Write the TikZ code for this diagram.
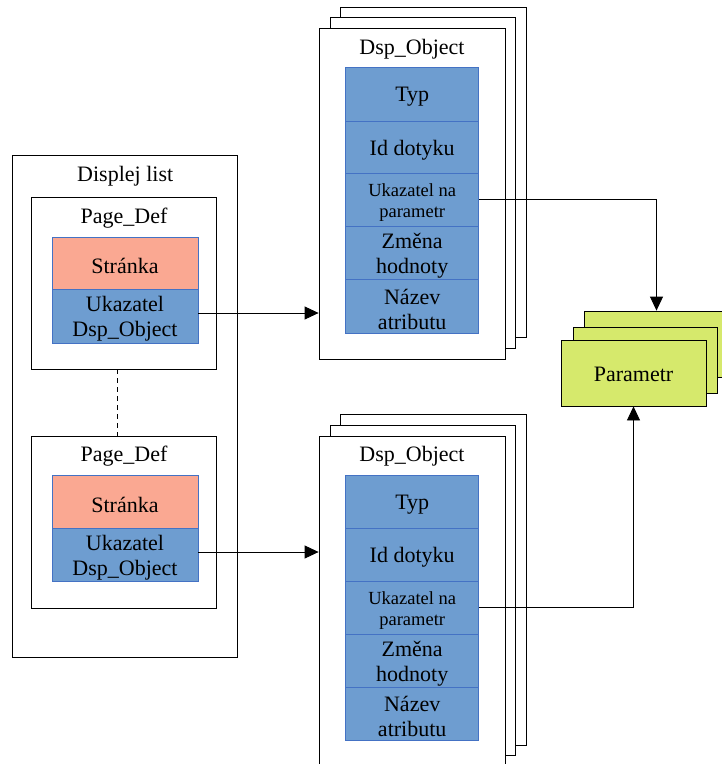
\documentclass[tikz,border=0pt]{standalone}
\usepackage{fontspec}
\setmainfont{Liberation Serif}
\usetikzlibrary{arrows.meta}
\definecolor{cellblue}{RGB}{110,157,208}
\definecolor{cellborder}{RGB}{68,114,196}
\definecolor{salmon}{RGB}{250,168,146}
\definecolor{lime}{RGB}{214,233,108}
\tikzset{
  frame/.style={draw=black, line width=0.8pt, fill=white, inner sep=0pt},
  cell/.style={draw=cellborder, line width=0.6pt, fill=cellblue, inner sep=0pt, minimum width=133pt},
  pagecell/.style={draw=cellborder, line width=0.6pt, inner sep=0pt, minimum width=146pt},
  celltext/.style={inner sep=0pt, align=center, yshift=-3pt, font=\fontsize{22}{25}\selectfont},
  smalltext/.style={celltext, font=\fontsize{18.5}{21.5}\selectfont},
  titletext/.style={inner sep=0pt, font=\fontsize{22}{25}\selectfont},
  parbox/.style={draw=black, line width=0.8pt, fill=lime, inner sep=0pt, minimum width=145pt, minimum height=66pt, font=\fontsize{22}{25}\selectfont},
  arr/.style={draw=black, line width=0.8pt, -{Triangle[length=14pt,width=13pt]}}
}
\begin{document}
\begin{tikzpicture}[x=1pt,y=-1pt]
\useasboundingbox (0,0) rectangle (722,764);

% Displej list
\node[frame, minimum width=225pt, minimum height=502pt] (dl) at (125.2,406) {};
\node[titletext] (dlt) at (125.2,176) {Displej list};

% Page_Def 1
\node[frame, minimum width=185.7pt, minimum height=172pt] (pd1) at (123.85,283) {};
\node[titletext] (pd1t) at (124,218) {Page\_Def};
\node[pagecell, fill=salmon, minimum height=52pt] (st1) at (125,263) {};
\node[celltext] (st1t) at (st1) {Stránka};
\node[pagecell, fill=cellblue, minimum height=54pt] (uk1) at (125,316) {};
\node[celltext] (uk1t) at (uk1) {Ukazatel\\Dsp\_Object};

% Page_Def 2
\node[frame, minimum width=185.7pt, minimum height=172pt] (pd2) at (123.85,522) {};
\node[titletext] (pd2t) at (124,456) {Page\_Def};
\node[pagecell, fill=salmon, minimum height=53pt] (st2) at (125,501.5) {};
\node[celltext] (st2t) at (st2) {Stránka};
\node[pagecell, fill=cellblue, minimum height=53pt] (uk2) at (125,554.5) {};
\node[celltext] (uk2t) at (uk2) {Ukazatel\\Dsp\_Object};

\draw[black, line width=0.8pt, dash pattern=on 5pt off 4pt] ([xshift=-6pt]pd1.south) -- ([xshift=-6pt]pd2.north);

% Dsp_Object group 1
\node[frame, minimum width=185.3pt, minimum height=330pt] (b1) at (433.35,172) {};
\node[frame, minimum width=185pt, minimum height=331pt] (m1) at (422.5,182.5) {};
\node[frame, minimum width=186pt, minimum height=331pt] (f1) at (412,193.5) {};
\node[titletext] (f1t) at (412,49) {Dsp\_Object};
\node[cell, minimum height=54pt] (typ1) at (412.2,94) {};
\node[celltext] (typ1t) at (typ1) {Typ};
\node[cell, minimum height=52pt] (id1) at (412.2,147) {};
\node[celltext] (id1t) at (id1) {Id dotyku};
\node[cell, minimum height=53pt] (ukp1) at (412.2,199.5) {};
\node[smalltext] (ukp1t) at (ukp1) {Ukazatel na\\parametr};
\node[cell, minimum height=53pt] (zm1) at (412.2,252.5) {};
\node[celltext] (zm1t) at (zm1) {Změna\\hodnoty};
\node[cell, minimum height=54pt] (na1) at (412.2,306) {};
\node[celltext] (na1t) at (na1) {Název\\atributu};

% Dsp_Object group 2
\node[frame, minimum width=185.3pt, minimum height=331pt] (b2) at (433.35,579.5) {};
\node[frame, minimum width=185pt, minimum height=330pt] (m2) at (422.5,590) {};
\node[frame, minimum width=186pt, minimum height=331pt] (f2) at (412,601.5) {};
\node[titletext] (f2t) at (412,456) {Dsp\_Object};
\node[cell, minimum height=53pt] (typ2) at (412.2,501.5) {};
\node[celltext] (typ2t) at (typ2) {Typ};
\node[cell, minimum height=53pt] (id2) at (412.2,554.5) {};
\node[celltext] (id2t) at (id2) {Id dotyku};
\node[cell, minimum height=53pt] (ukp2) at (412.2,607.5) {};
\node[smalltext] (ukp2t) at (ukp2) {Ukazatel na\\parametr};
\node[cell, minimum height=53pt] (zm2) at (412.2,660.5) {};
\node[celltext] (zm2t) at (zm2) {Změna\\hodnoty};
\node[cell, minimum height=53pt] (na2) at (412.2,713.5) {};
\node[celltext] (na2t) at (na2) {Název\\atributu};

% Parametr stack
\node[parbox] (pb) at (656.5,344) {};
\node[parbox, minimum width=144pt] (pm) at (645,360) {};
\node[parbox] (pf) at (633.5,373) {};
\node[titletext, yshift=-1pt] (pft) at (pf) {Parametr};

% connectors
\coordinate (s1) at ([yshift=3pt]uk1.east);
\coordinate (s2) at ([yshift=2.5pt]uk2.east);
\draw[arr] (s1) -- (s1 -| f1.west);
\draw[arr] (s2) -- (s2 -| f2.west);
\draw[arr] (ukp1.east) -| (pb.north);
\draw[arr] (ukp2.east) -| (pf.south);
\end{tikzpicture}
\end{document}
